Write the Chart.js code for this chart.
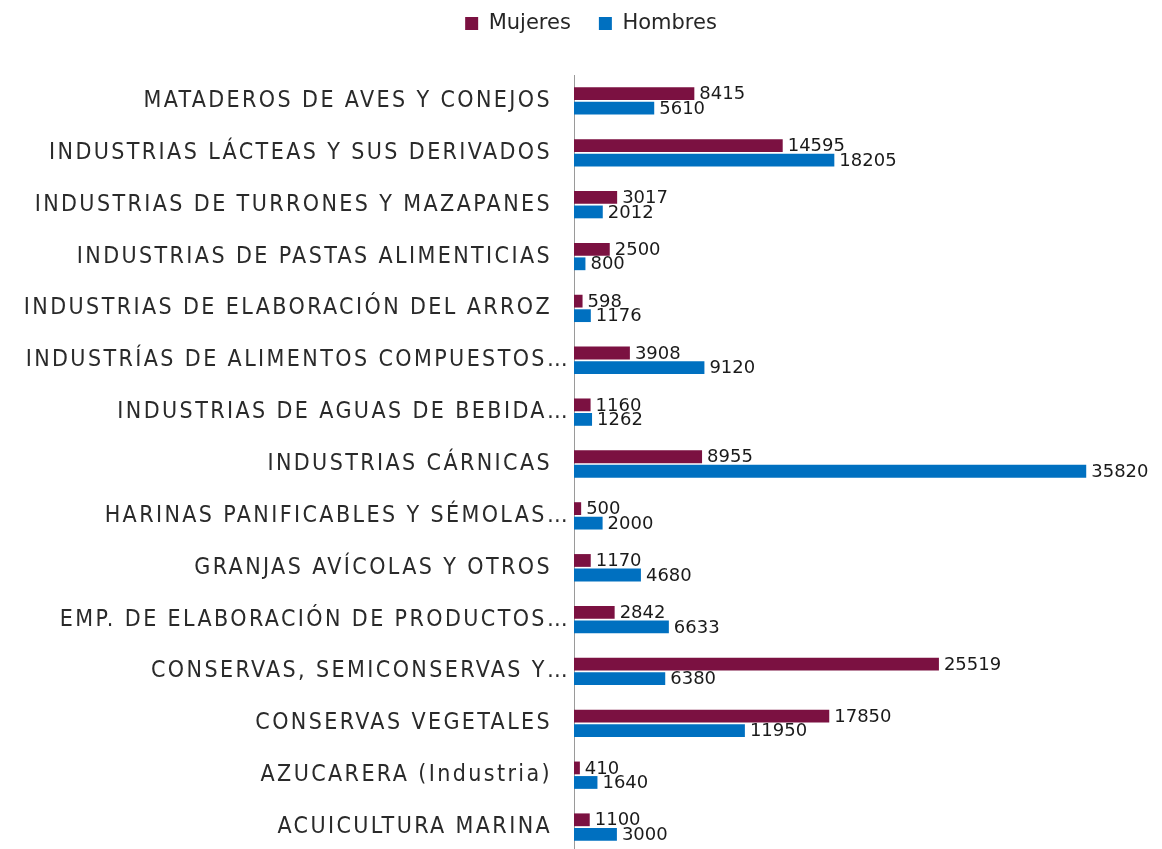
<!DOCTYPE html>
<html>
<head>
<meta charset="utf-8">
<script src="https://cdn.jsdelivr.net/npm/chart.js@4/dist/chart.umd.min.js"></script>
<style>
html,body{margin:0;padding:0;background:#fff;overflow:hidden;}
#wrap{width:1162px;height:849px;position:relative;overflow:hidden;}
</style>
</head>
<body>
<div id="wrap"><canvas id="c" width="1162" height="853"></canvas></div>
<script>
const categories = [
  "MATADEROS DE AVES Y CONEJOS",
  "INDUSTRIAS LÁCTEAS Y SUS DERIVADOS",
  "INDUSTRIAS DE TURRONES Y MAZAPANES",
  "INDUSTRIAS DE PASTAS ALIMENTICIAS",
  "INDUSTRIAS DE ELABORACIÓN DEL ARROZ",
  "INDUSTRÍAS DE ALIMENTOS COMPUESTOS…",
  "INDUSTRIAS DE AGUAS DE BEBIDA…",
  "INDUSTRIAS CÁRNICAS",
  "HARINAS PANIFICABLES Y SÉMOLAS…",
  "GRANJAS AVÍCOLAS Y OTROS",
  "EMP. DE ELABORACIÓN DE PRODUCTOS…",
  "CONSERVAS, SEMICONSERVAS Y…",
  "CONSERVAS VEGETALES",
  "AZUCARERA (Industria)",
  "ACUICULTURA MARINA"
];
const mujeres = [8415, 14595, 3017, 2500, 598, 3908, 1160, 8955, 500, 1170, 2842, 25519, 17850, 410, 1100];
const hombres = [5610, 18205, 2012, 800, 1176, 9120, 1262, 35820, 2000, 4680, 6633, 6380, 11950, 1640, 3000];
const seriesNames = ["Mujeres", "Hombres"];

const TICK_SPACING = '2.4px';

const valueLabels = {
  id: 'valueLabels',
  afterDatasetsDraw(chart) {
    const ctx = chart.ctx;
    ctx.save();
    ctx.letterSpacing = '0px';
    ctx.font = '18px "DejaVu Sans"';
    ctx.fillStyle = '#1a1a1a';
    ctx.textBaseline = 'middle';
    ctx.textAlign = 'left';
    chart.data.datasets.forEach((ds, i) => {
      const meta = chart.getDatasetMeta(i);
      meta.data.forEach((bar, j) => {
        ctx.fillText(String(ds.data[j]), bar.x + 5, bar.y + 1);
      });
    });
    ctx.restore();
  }
};

const spacingPlugin = {
  id: 'spacingPlugin',
  beforeLayout(chart) { chart.ctx.letterSpacing = TICK_SPACING; },
  beforeDraw(chart) { chart.ctx.letterSpacing = TICK_SPACING; }
};

const legendTweak = {
  id: 'legendTweak',
  beforeInit(chart) {
    const lg = chart.legend;
    const origFit = lg.fit;
    lg.fit = function () {
      const ctx = this.ctx;
      ctx.save();
      ctx.letterSpacing = '0px';
      origFit.call(this);
      ctx.restore();
      this.height = 75;
    };
    const origDraw = lg.draw;
    lg.draw = function (area) {
      const ctx = this.ctx;
      ctx.save();
      ctx.letterSpacing = '0px';
      ctx.translate(18, -15);
      origDraw.call(this, area);
      ctx.restore();
    };
  }
};

new Chart(document.getElementById('c'), {
  type: 'bar',
  data: {
    labels: categories,
    datasets: [
      { label: seriesNames[0], data: mujeres, backgroundColor: '#7B1141', barPercentage: 0.88, categoryPercentage: 0.56 },
      { label: seriesNames[1], data: hombres, backgroundColor: '#0070C0', barPercentage: 0.88, categoryPercentage: 0.56 }
    ]
  },
  options: {
    indexAxis: 'y',
    responsive: false,
    animation: false,
    layout: { padding: { top: 0, right: 16, bottom: 0, left: 0 } },
    plugins: {
      legend: {
        display: true,
        position: 'top',
        labels: {
          boxWidth: 13, boxHeight: 13, padding: 28,
          color: '#262626',
          font: { family: '"DejaVu Sans"', size: 21 }
        }
      },
      tooltip: { enabled: false }
    },
    scales: {
      x: {
        display: false,
        min: 0, max: 40000
      },
      y: {
        grid: { display: false, drawTicks: false },
        border: { display: true, color: '#9a9a9a', width: 1 },
        ticks: {
          color: '#2a2a2a',
          padding: 4,
          autoSkip: false,
          font: { family: '"DejaVu Sans Condensed", "DejaVu Sans"', size: 23, weight: 'normal' },
          callback(value) {
            const s = this.getLabelForValue(value);
            return s.endsWith('…') ? s : s + '\u00A0\u00A0';
          }
        },
        afterFit(scale) {
          scale.width = 574;
          scale.paddingTop = 0;
          scale.paddingBottom = 0;
        }
      }
    }
  },
  plugins: [spacingPlugin, legendTweak, valueLabels]
});
</script>
</body>
</html>
